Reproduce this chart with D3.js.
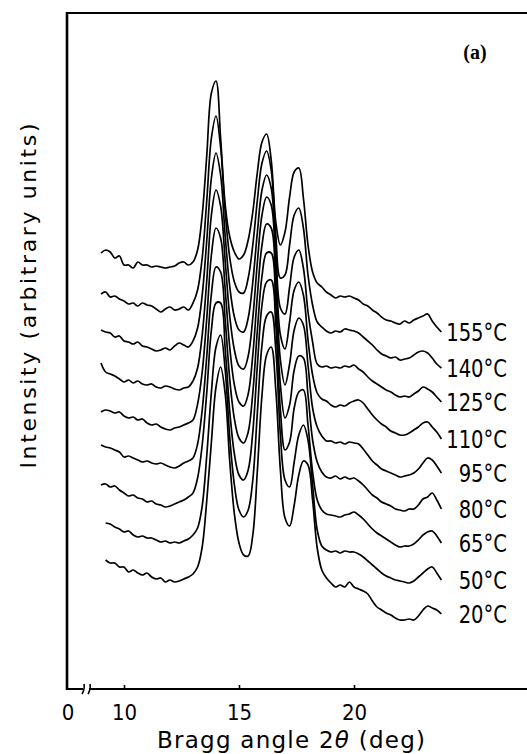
<!DOCTYPE html>
<html>
<head>
<meta charset="utf-8">
<script src="https://cdn.jsdelivr.net/npm/d3@7/dist/d3.min.js"></script>
<style>
body { margin: 0; background: #fff; }
</style>
</head>
<body>
<div id="xrd"></div>
<script>
// 2theta sample points (deg)
var angles = [9.0, 9.2, 9.4, 9.6, 9.8, 10.0, 10.2, 10.4, 10.6, 10.8, 11.0, 11.2, 11.4, 11.6, 11.8,
  12.0, 12.2, 12.4, 12.6, 12.8, 13.0, 13.2, 13.4, 13.6, 13.8, 14.0, 14.2, 14.4, 14.6, 14.8,
  15.0, 15.2, 15.4, 15.6, 15.8, 16.0, 16.2, 16.4, 16.6, 16.8, 17.0, 17.2, 17.4, 17.6, 17.8,
  18.0, 18.2, 18.4, 18.6, 18.8, 19.0, 19.2, 19.4, 19.6, 19.8, 20.0, 20.2, 20.4, 20.6, 20.8,
  21.0, 21.2, 21.4, 21.6, 21.8, 22.0, 22.2, 22.4, 22.6, 22.8, 23.0, 23.2, 23.4, 23.6, 23.8];

var temperatures = ["155°C", "140°C", "125°C", "110°C", "95°C", "80°C", "65°C", "50°C", "20°C"];

// vertical shift of each pattern (arbitrary units)
var offsets = [316, 275, 234, 195, 154, 116, 77, 40, 0];

var i155 = [13, 16, 14, 8, 10, 1, 1, -2, 4, 1, 1, -1, 0, -1, -2, -1, 0, 3, 4, 1, 4,
  16, 51, 111, 173, 185, 128, 61, 29, 14, 7, 11, 26, 54, 94, 124, 132, 106, 44, 21, 34, 69, 94, 98, 68, 21, -6,
  -17, -21, -26, -29, -32, -30, -31, -30, -32, -34, -38, -40, -44, -47, -51, -54, -55, -57, -58, -55, -57, -54, -52, -50, -48, -55, -61, -66];
var i140 = [13, 15, 10, 11, 8, 6, 3, 4, 1, 4, 2, 1, -2, -5, -2, 0, -3, -2, 0, -3, 4,
  17, 49, 107, 169, 191, 160, 95, 49, 25, 15, 14, 29, 62, 107, 144, 156, 137, 72, 29, 32, 62, 92, 99, 79, 32, 2,
  -15, -20, -24, -26, -24, -25, -22, -23, -24, -26, -30, -34, -38, -43, -47, -49, -51, -50, -53, -52, -51, -48, -45, -44, -46, -51, -57, -61];
var i125 = [18, 16, 15, 11, 12, 7, 6, 4, 6, 2, 1, -1, -3, -2, 0, -2, 2, 5, 3, 1, 7,
  20, 53, 108, 170, 195, 173, 112, 61, 31, 18, 16, 30, 66, 116, 158, 173, 160, 98, 40, 34, 61, 91, 98, 80, 36, 6,
  -16, -19, -18, -20, -19, -20, -18, -19, -17, -21, -24, -29, -33, -36, -39, -42, -44, -47, -49, -48, -49, -46, -43, -39, -41, -44, -49, -54];
var i110 = [24, 15, 13, 11, 8, 5, 7, 4, 6, 3, 2, 3, 0, -1, 1, 0, -2, -3, -1, 0, 6,
  19, 52, 107, 172, 197, 181, 126, 70, 37, 21, 18, 31, 69, 125, 172, 190, 182, 122, 52, 38, 65, 97, 105, 92, 47, 12,
  -6, -12, -14, -18, -20, -18, -19, -16, -14, -13, -16, -22, -28, -33, -37, -40, -44, -46, -48, -48, -46, -43, -40, -36, -35, -40, -45, -52];
var i95 = [16, 18, 17, 15, 16, 12, 10, 11, 8, 9, 5, 3, 4, 1, -1, -2, 0, 1, 3, 5, 8,
  24, 56, 110, 173, 200, 190, 138, 80, 43, 26, 22, 34, 73, 133, 183, 204, 200, 143, 68, 43, 64, 98, 110, 103, 63, 20,
  1, -8, -13, -13, -15, -14, -16, -14, -15, -16, -21, -27, -33, -37, -41, -43, -45, -47, -49, -48, -47, -45, -41, -35, -30, -32, -38, -45];
var i80 = [21, 19, 18, 16, 14, 9, 10, 8, 6, 4, 5, 3, 2, 3, 1, -1, -2, 0, 3, 5, 8,
  22, 56, 110, 172, 199, 194, 146, 86, 47, 28, 23, 34, 73, 136, 190, 213, 213, 161, 81, 48, 61, 96, 110, 108, 71, 26,
  4, -6, -11, -12, -10, -13, -11, -13, -12, -15, -19, -24, -29, -32, -36, -38, -40, -43, -44, -45, -43, -43, -39, -33, -31, -27, -34, -43];
var i65 = [20, 21, 18, 19, 15, 12, 9, 10, 7, 6, 3, 4, 1, 0, -2, -1, 1, 3, 5, 8, 12,
  27, 60, 113, 175, 202, 202, 156, 93, 51, 30, 25, 35, 73, 140, 200, 223, 225, 180, 95, 55, 63, 97, 113, 115, 80, 33,
  5, -5, -9, -10, -11, -12, -10, -9, -7, -10, -14, -19, -24, -28, -31, -34, -37, -40, -42, -41, -41, -39, -35, -30, -27, -26, -31, -38];
var i50 = [null, 19, 18, 15, 13, 10, 11, 7, 5, 6, 4, 4, 2, 0, 1, -1, 0, -1, 1, 3, 7,
  14, 36, 87, 150, 195, 207, 172, 104, 57, 32, 25, 32, 62, 130, 197, 226, 230, 192, 107, 62, 55, 80, 107, 117, 102, 57,
  12, -4, -8, -10, -9, -11, -9, -10, -10, -12, -15, -19, -23, -27, -31, -34, -36, -38, -39, -40, -41, -39, -35, -31, -27, -25, -31, -38];
var i20 = [null, 22, 19, 19, 15, 15, 10, 12, 9, 7, 9, 5, 3, 4, 0, 2, 0, 1, 3, 5, 8,
  15, 35, 82, 140, 195, 215, 188, 120, 68, 39, 27, 26, 47, 112, 187, 227, 235, 192, 112, 64, 56, 77, 107, 121, 117, 82,
  34, 12, 4, -1, -5, -3, -5, 0, -5, -7, -9, -12, -19, -25, -28, -31, -33, -36, -38, -38, -37, -38, -34, -28, -24, -26, -28, -32];

var patterns = [i155, i140, i125, i110, i95, i80, i65, i50, i20];
var xTicks = [10, 15, 20];

var viz = {};

viz.stack = function(options){

  var self = {};

  for (var key in options) {
    self[key] = options[key];
  }

  self.parentSelect = "#" + self.parentId;
  self.font = "'DejaVu Sans Condensed', 'DejaVu Sans', sans-serif";

  self.init = function(){

    self.svg = d3.select(self.parentSelect).append("svg")
      .attr("width", self.width)
      .attr("height", self.height);

    self.g = self.svg.append("g").attr("transform", "translate(67,13)");

    self.x = d3.scaleLinear().domain([10, 20]).range([57, 287]);
    self.y = d3.scaleLinear().domain([-107, 569]).range([676, 0]);
  };

  self.prerender = function(){

    var g = self.g;

    // frame: left and top edges
    g.append("line").attr("x1", 0).attr("x2", 0).attr("y1", -1).attr("y2", 677)
      .attr("stroke", "#000").attr("stroke-width", 2.6);
    g.append("line").attr("x1", -1).attr("x2", 480).attr("y1", 0).attr("y2", 0)
      .attr("stroke", "#000").attr("stroke-width", 2);

    // bottom axis with a break after 0
    var axis = g.append("g")
      .attr("transform", "translate(0,676)")
      .call(d3.axisBottom(self.x).tickValues(xTicks).tickSize(-4).tickFormat(d3.format("d")));
    axis.select(".domain").remove();
    axis.selectAll(".tick line").attr("stroke-width", 1.6);
    axis.selectAll("text")
      .attr("y", 31).attr("dy", null)
      .attr("font-family", self.font)
      .attr("font-size", 22)
      .attr("fill", "#000");

    axis.append("path").attr("d", "M0,0H16M22,0H480")
      .attr("stroke", "#000").attr("stroke-width", 2).attr("fill", "none");
    axis.append("path").attr("d", "M15,5Q18,0 17,-5M21,5Q24,0 23,-5")
      .attr("stroke", "#000").attr("stroke-width", 1.6).attr("fill", "none");
    axis.append("text").attr("x", 1).attr("y", 31)
      .attr("text-anchor", "middle")
      .attr("fill", "#000")
      .attr("font-family", self.font).attr("font-size", 22)
      .text("0");

    // x title
    var title = g.append("text")
      .attr("x", 224).attr("y", 735)
      .attr("text-anchor", "middle")
      .attr("font-family", "'DejaVu Sans', sans-serif")
      .attr("font-size", 23)
      .attr("textLength", 268)
      .attr("lengthAdjust", "spacing");
    title.append("tspan").text("Bragg angle 2");
    title.append("tspan").attr("font-style", "italic").text("θ");
    title.append("tspan").text(" (deg)");

    // y title
    g.append("text")
      .attr("transform", "translate(-31,283) rotate(-90)")
      .attr("text-anchor", "middle")
      .attr("font-family", "'DejaVu Sans', sans-serif")
      .attr("font-size", 22)
      .attr("textLength", 345)
      .attr("lengthAdjust", "spacing")
      .text("Intensity (arbitrary units)");

    g.append("text")
      .attr("x", 408).attr("y", 46)
      .attr("text-anchor", "middle")
      .attr("font-family", "'Liberation Serif', serif")
      .attr("font-weight", "bold")
      .attr("font-size", 20)
      .text("(a)");

    var line = d3.line()
      .defined(function(d) { return d[1] != null; })
      .x(function(d) { return self.x(d[0]); })
      .y(function(d) { return self.y(d[1]); })
      .curve(d3.curveCatmullRom.alpha(0.5));

    var series = self.data.map(function(vals, k){
      return angles.map(function(a, i){
        return [a, vals[i] == null ? null : vals[i] + offsets[k]];
      });
    });

    g.selectAll(".pattern")
      .data(series)
      .enter().append("path")
      .attr("class", "pattern")
      .attr("d", line)
      .attr("fill", "none")
      .attr("stroke", "#000")
      .attr("stroke-width", 1.7)
      .attr("stroke-linejoin", "round");

    g.selectAll(".temp")
      .data(series)
      .enter().append("text")
      .attr("class", "temp")
      .attr("x", 440)
      .attr("y", function(d) { return self.y(d[d.length - 1][1]) + 9; })
      .attr("text-anchor", "end")
      .attr("font-family", self.font)
      .attr("font-size", 25)
      .text(function(d, i) { return temperatures[i]; })
      .each(function(){
        var w = this.getComputedTextLength();
        d3.select(this).attr("textLength", w * 0.87).attr("lengthAdjust", "spacingAndGlyphs");
      });
  };

  self.init();
  return self;
};

var xrdviz = viz.stack({
  parentId: "xrd",
  data: patterns,
  width: 527,
  height: 754
});

xrdviz.prerender();
</script>
</body>
</html>
